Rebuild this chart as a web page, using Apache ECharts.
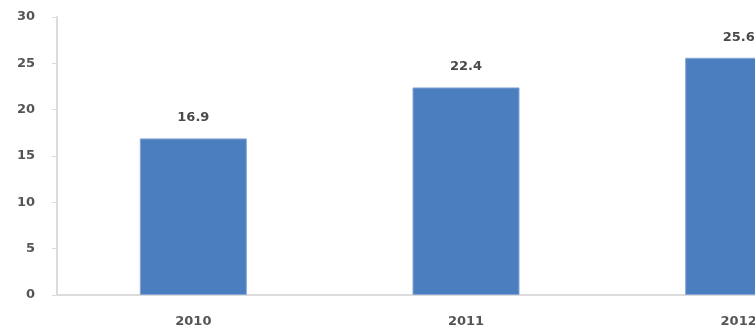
<!DOCTYPE html>
<html>
<head>
<meta charset="utf-8">
<script src="https://cdn.jsdelivr.net/npm/echarts@6/dist/echarts.min.js"></script>
<style>
html, body { margin: 0; padding: 0; background: #fff; }
#chart { width: 755px; height: 329px; }
</style>
</head>
<body>
<div id="chart"></div>
<script>
var categories = ['2010', '2011', '2012'];
var values = [16.9, 22.4, 25.6];
var yTicks = [0, 5, 10, 15, 20, 25, 30];

var myChart = echarts.init(document.getElementById('chart'));

var option = {
    animation: false,
    grid: {
        left: 57,
        width: 818,    // 第三根柱子超出画面
        top: 17,
        bottom: 34,
        outerBoundsMode: 'none'
    },
    xAxis: {
        type: 'category',
        data: categories,
        axisLine: { lineStyle: { color: '#dcdcdc', width: 2 } },
        axisTick: { show: false },
        axisLabel: {
            margin: 20,
            fontSize: 13,
            fontWeight: 'bold',
            color: '#555',
            fontFamily: 'DejaVu Sans'
        }
    },
    yAxis: {
        type: 'value',
        min: yTicks[0],
        max: yTicks[yTicks.length - 1],
        interval: 5,
        axisLine: { show: true, lineStyle: { color: '#dcdcdc', width: 2 } },
        axisTick: { show: true, length: 5, lineStyle: { color: '#dcdcdc' } },
        splitLine: { show: false },
        axisLabel: {
            margin: 22,
            fontSize: 13,
            fontWeight: 'bold',
            color: '#555',
            fontFamily: 'DejaVu Sans'
        }
    },
    series: [{
        type: 'bar',
        data: values,
        barWidth: 107,
        itemStyle: {
            color: '#4A7EBF',
            borderColor: '#86a6d6',
            borderWidth: 1
        },
        label: {
            show: true,
            position: 'top',
            distance: 14,
            fontSize: 13,
            fontWeight: 'bold',
            color: '#4a4a4a',
            fontFamily: 'DejaVu Sans',
            formatter: function (p) { return p.value.toFixed(1); }
        }
    }]
};

myChart.setOption(option);
</script>
</body>
</html>
